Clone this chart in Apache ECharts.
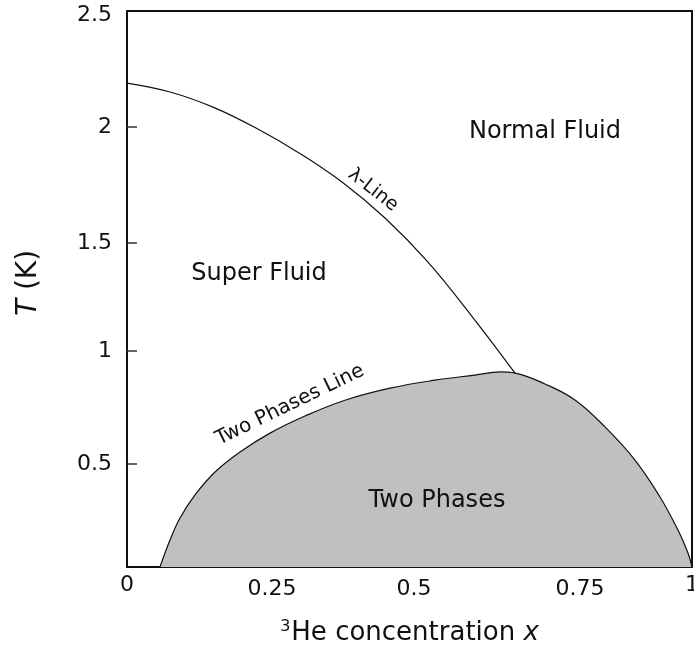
<!DOCTYPE html>
<html>
<head>
<meta charset="utf-8">
<script src="https://cdn.jsdelivr.net/npm/echarts@6/dist/echarts.min.js"></script>
<style>
  html, body { margin: 0; padding: 0; background: #ffffff; }
  #chart { width: 694px; height: 653px; }
</style>
</head>
<body>
<div id="chart"></div>
<script>
// Lambda line: superfluid transition temperature vs 3He concentration
const lambdaX = [0, 0.0761, 0.1522, 0.2283, 0.3044, 0.3805, 0.4566, 0.5327, 0.6088, 0.6867];
const lambdaT = [2.176, 2.136, 2.068, 1.974, 1.862, 1.731, 1.569, 1.371, 1.133, 0.872];

// Phase-separation boundary (two-phase region underneath)
const twoPhaseX = [0.0584, 0.0761, 0.0938, 0.1204, 0.1558, 0.2000, 0.2531, 0.3150, 0.3858, 0.4655, 0.5451,
                   0.6159, 0.6602, 0.6867, 0.7398, 0.7929, 0.8460, 0.8991, 0.9434, 0.9752, 0.9929, 1.0];
const twoPhaseT = [0, 0.121, 0.220, 0.324, 0.427, 0.517, 0.602, 0.679, 0.750, 0.804, 0.840,
                   0.863, 0.877, 0.872, 0.823, 0.751, 0.630, 0.481, 0.315, 0.166, 0.063, 0];

// Tick positions and their printed labels
const xTickValues = [0, 0.2566, 0.508, 0.8018, 1];
const xTickLabels = ['0', '0.25', '0.5', '0.75', '1'];
const yTickValues = [0.463, 0.971, 1.457, 1.978, 2.482];
const yTickLabels = ['0.5', '1', '1.5', '2', '2.5'];

const FONT = '"DejaVu Sans", Verdana, sans-serif';

function pairs(xs, ys) { return xs.map((x, i) => [x, ys[i]]); }
function labelFor(values, labels, v) {
  let best = 0;
  values.forEach((t, i) => { if (Math.abs(t - v) < Math.abs(values[best] - v)) best = i; });
  return labels[best];
}

const chart = echarts.init(document.getElementById('chart'), null, { renderer: 'canvas' });

chart.setOption({
  animation: false,
  backgroundColor: '#ffffff',
  grid: {
    left: 127, right: 2, top: 11, bottom: 86,
    containLabel: false,
    outerBoundsMode: 'none',
    show: true, borderColor: '#111', borderWidth: 2, backgroundColor: 'transparent'
  },
  xAxis: {
    type: 'value', min: 0, max: 1,
    axisLine: { show: true, lineStyle: { color: '#111', width: 2 } },
    splitLine: { show: false },
    axisTick: {
      show: true, inside: true, length: 10,
      customValues: xTickValues.slice(1, -1),
      lineStyle: { color: '#333', width: 1.5 }
    },
    axisLabel: {
      customValues: xTickValues,
      margin: 7,
      hideOverlap: false,
      color: '#111', fontFamily: FONT, fontSize: 22,
      formatter: function (v) {
        const s = labelFor(xTickValues, xTickLabels, v);
        return (s === '0' || s === '1') ? s : '{lo|' + s + '}';
      },
      rich: { lo: { fontFamily: FONT, fontSize: 22, color: '#111', padding: [4, 0, 0, 0] } }
    },
    name: '{sup|3}He concentration {i|x}',
    nameLocation: 'middle',
    nameGap: 52,
    nameTextStyle: {
      fontFamily: FONT, fontSize: 26, color: '#111',
      rich: {
        sup: { fontFamily: FONT, fontSize: 16, color: '#111', verticalAlign: 'top', padding: [0, 1, 12, 0] },
        i: { fontFamily: FONT, fontSize: 26, fontStyle: 'italic', color: '#111' }
      }
    }
  },
  yAxis: {
    type: 'value', min: 0, max: 2.5,
    axisLine: { show: true, lineStyle: { color: '#111', width: 2 } },
    splitLine: { show: false },
    axisTick: {
      show: true, inside: true, length: 10,
      customValues: yTickValues.slice(0, -1),
      lineStyle: { color: '#333', width: 1.5 }
    },
    axisLabel: {
      customValues: yTickValues,
      margin: 15,
      hideOverlap: false,
      color: '#111', fontFamily: FONT, fontSize: 22,
      formatter: function (v) { return labelFor(yTickValues, yTickLabels, v); }
    },
    name: '{i|T} (K)',
    nameLocation: 'middle',
    nameRotate: 90,
    nameGap: 84,
    nameTextStyle: {
      fontFamily: FONT, fontSize: 28, color: '#111', padding: [0, 0, 0, 12],
      rich: { i: { fontFamily: FONT, fontSize: 28, fontStyle: 'italic', color: '#111' } }
    }
  },
  series: [
    {
      name: 'Two Phases',
      type: 'line',
      data: pairs(twoPhaseX, twoPhaseT),
      smooth: 0.4,
      showSymbol: false,
      lineStyle: { color: '#111', width: 1.2 },
      areaStyle: { color: '#c0c0c0', opacity: 1, origin: 'start' },
      z: 2
    },
    {
      name: 'λ-Line',
      type: 'line',
      data: pairs(lambdaX, lambdaT),
      smooth: 0.4,
      showSymbol: false,
      lineStyle: { color: '#111', width: 1.2 },
      z: 3
    }
  ],
  graphic: [
    { type: 'text', x: 545, y: 132, z: 10,
      style: { text: 'Normal Fluid', font: '24px ' + FONT, fill: '#111', textAlign: 'center', textVerticalAlign: 'middle' } },
    { type: 'text', x: 259, y: 274, z: 10,
      style: { text: 'Super Fluid', font: '24px ' + FONT, fill: '#111', textAlign: 'center', textVerticalAlign: 'middle' } },
    { type: 'text', x: 437, y: 501, z: 10,
      style: { text: 'Two Phases', font: '24px ' + FONT, fill: '#111', textAlign: 'center', textVerticalAlign: 'middle' } },
    { type: 'text', x: 373, y: 190, rotation: -0.66, z: 10,
      style: { text: 'λ-Line', font: '19px ' + FONT, fill: '#111', textAlign: 'center', textVerticalAlign: 'middle' } },
    { type: 'text', x: 290, y: 405, rotation: 0.45, z: 10,
      style: { text: 'Two Phases Line', font: '20px ' + FONT, fill: '#111', textAlign: 'center', textVerticalAlign: 'middle' } }
  ]
});
</script>
</body>
</html>
